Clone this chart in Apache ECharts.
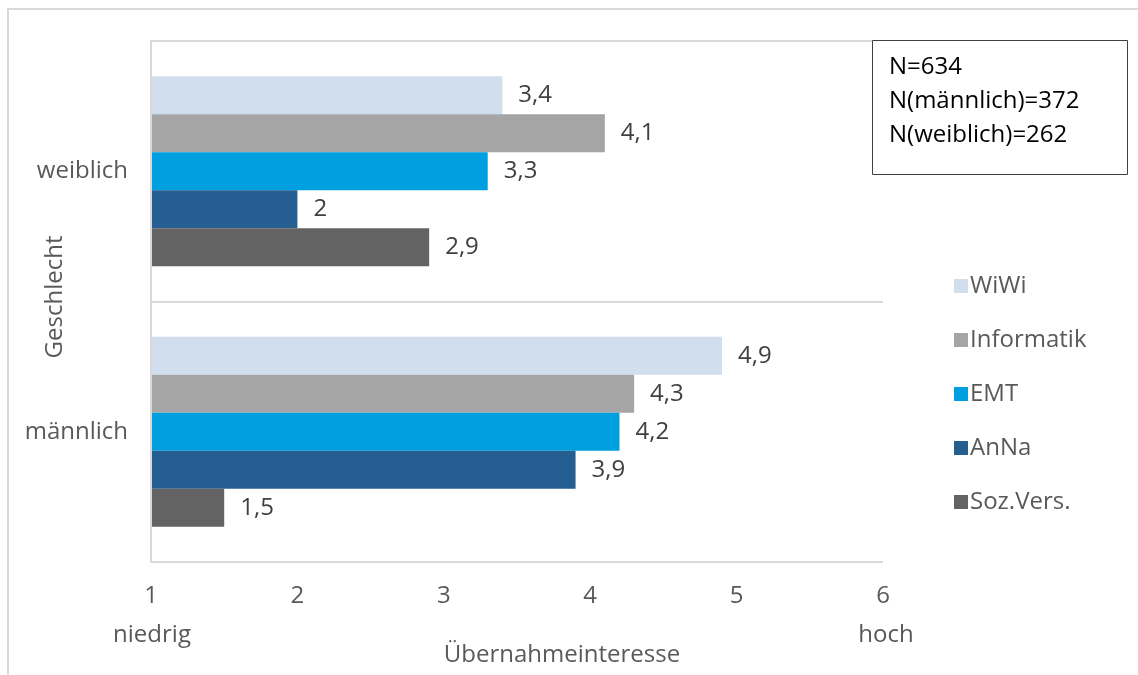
<!DOCTYPE html>
<html>
<head>
<meta charset="utf-8">
<script src="https://cdn.jsdelivr.net/npm/echarts@6/dist/echarts.min.js"></script>
<style>html,body{margin:0;padding:0;background:#fff}#c{width:1138px;height:675px}</style>
</head>
<body>
<div id="c"></div>
<script>
const categories = ['männlich', 'weiblich'];
const seriesNames = ['WiWi', 'Informatik', 'EMT', 'AnNa', 'Soz.Vers.'];
const wiwi = [4.9, 3.4];
const informatik = [4.3, 4.1];
const emt = [4.2, 3.3];
const anna = [3.9, 2.0];
const sozVers = [1.5, 2.9];
const xTicks = [1, 2, 3, 4, 5, 6];
const infoLines = ['N=634', 'N(männlich)=372', 'N(weiblich)=262'];

const colors = ['#D0DEEE', '#A5A5A5', '#00A0E0', '#255E91', '#636363'];
const FONT = '"Open Sans", sans-serif';
const FS = 24;
const values = [wiwi, informatik, emt, anna, sozVers];

const chart = echarts.init(document.getElementById('c'), null, {renderer: 'canvas'});
const series = seriesNames.map((n, i) => ({
  name: n,
  type: 'bar',
  data: values[i],
  barWidth: 38,
  barGap: '0%',
  itemStyle: {color: colors[i]},
  label: {
    show: true, position: 'right', distance: 16,
    color: '#404040', fontFamily: FONT, fontSize: FS,
    formatter: p => String(p.value).replace('.', ',')
  }
}));

chart.setOption({
  animation: false,
  color: colors,
  grid: {left: 151, right: 255, top: 41, bottom: 113, containLabel: false},
  xAxis: {
    type: 'value', min: xTicks[0], max: xTicks[xTicks.length - 1], interval: 1,
    axisLine: {show: false}, axisTick: {show: false}, splitLine: {show: false},
    axisLabel: {color: '#595959', fontFamily: FONT, fontSize: FS, margin: 22}
  },
  yAxis: {
    type: 'category', data: categories, z: 5,
    axisLine: {show: true, lineStyle: {color: '#D9D9D9', width: 2}},
    axisTick: {show: false},
    splitLine: {show: true, lineStyle: {color: '#D9D9D9', width: 2}},
    axisLabel: {color: '#595959', fontFamily: FONT, fontSize: FS, margin: 23}
  },
  legend: {
    orient: 'vertical', left: 949, top: 267,
    itemWidth: 14, itemHeight: 14, itemGap: 26,
    icon: 'rect',
    textStyle: {color: '#595959', fontFamily: FONT, fontSize: FS, lineHeight: 28, padding: [0, 0, 0, -3]},
    data: seriesNames
  },
  graphic: [
    {type: 'rect', shape: {x: 8, y: 9, width: 1140, height: 680}, style: {fill: 'none', stroke: '#D9D9D9', lineWidth: 2}, silent: true, z: -10},
    {type: 'rect', shape: {x: 872.5, y: 40.5, width: 255, height: 134}, style: {fill: '#fff', stroke: '#404040', lineWidth: 1}, z: 10},
    {type: 'text', left: 889, top: 50, z: 11,
      style: {text: infoLines.join('\n'), fill: '#000', font: FS + 'px ' + FONT, lineHeight: 34}},
    {type: 'text', x: 152, y: 635, z: 11,
      style: {text: 'niedrig', fill: '#595959', font: FS + 'px ' + FONT, textAlign: 'center', textVerticalAlign: 'middle'}},
    {type: 'text', x: 886, y: 635, z: 11,
      style: {text: 'hoch', fill: '#595959', font: FS + 'px ' + FONT, textAlign: 'center', textVerticalAlign: 'middle'}},
    {type: 'text', x: 562, y: 655, z: 11,
      style: {text: 'Übernahmeinteresse', fill: '#595959', font: FS + 'px ' + FONT, textAlign: 'center', textVerticalAlign: 'middle'}},
    {type: 'text', x: 55, y: 297, rotation: Math.PI / 2, z: 11,
      style: {text: 'Geschlecht', fill: '#595959', font: FS + 'px ' + FONT, textAlign: 'center', textVerticalAlign: 'middle'}}
  ],
  series: series
});
</script>
</body>
</html>
